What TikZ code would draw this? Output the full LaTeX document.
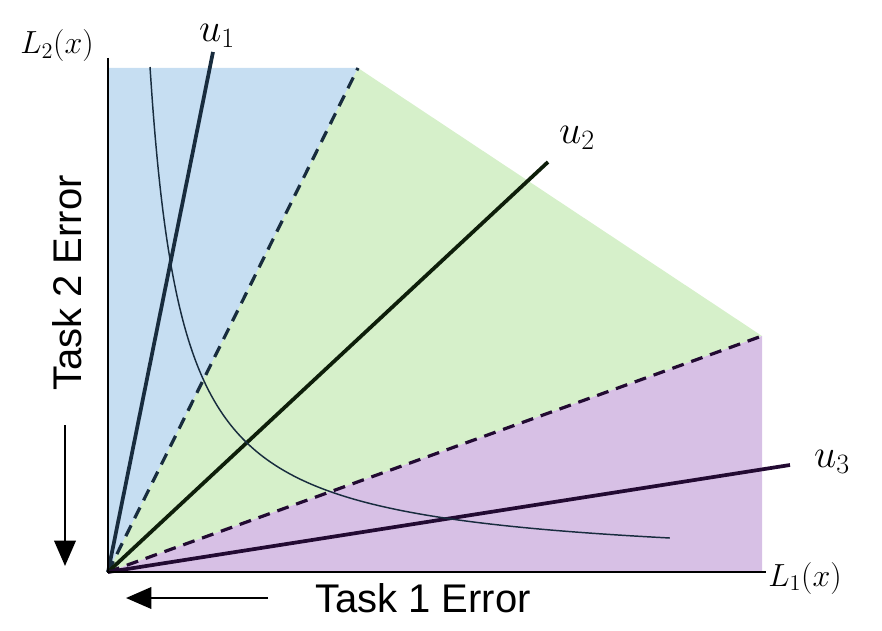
\documentclass[tikz,border=0pt]{standalone}
\usepackage{fix-cm}
\usepackage{fontspec}
\setmainfont{Liberation Sans}
\usetikzlibrary{arrows.meta}
\definecolor{regblue}{RGB}{198,222,242}
\definecolor{reggreen}{RGB}{214,240,202}
\definecolor{regpurple}{RGB}{215,192,229}
\definecolor{linenavy}{RGB}{24,44,62}
\definecolor{linegreen}{RGB}{14,30,10}
\definecolor{linepurple}{RGB}{34,10,50}
\tikzset{ray/.style={line width=2.8pt},
    border/.style={line width=2.4pt, dash pattern=on 9pt off 6pt},
    axis/.style={line width=1.6pt},
    tasklabel/.style={font=\fontsize{30}{32}\selectfont},
    mathlabel/.style={font=\fontsize{30}{32}\selectfont},
    axislabel/.style={font=\fontsize{24}{26}\selectfont},
    bigarrow/.style={line width=2pt, -{Triangle[width=16pt,length=19pt]}}}

\begin{document}
\begin{tikzpicture}[x=0.75pt,y=-0.75pt]
    \useasboundingbox (0,0) rectangle (882,631);
    \coordinate (O) at (108,572);
    \coordinate (top) at (108,58);
    \coordinate (right) at (766,572);
    \coordinate (b1) at (108,68);
    \coordinate (b2) at (358,68);
    \coordinate (g2) at (762,336);
    \coordinate (p2) at (762,572);

    % regions
    \fill[regblue] (O) -- (b1) -- (b2) -- cycle;
    \fill[reggreen] (O) -- (b2) -- (g2) -- cycle;
    \fill[regpurple] (O) -- (g2) -- (p2) -- cycle;

    % borders between regions
    \draw[border,linenavy] (O) -- (b2);
    \draw[border,linepurple] (O) -- (g2);

    % preference rays
    \node[mathlabel] (u1) at (217,36) {$u_1$};
    \node[mathlabel] (u2) at (577,138) {$u_2$};
    \node[mathlabel] (u3) at (832,462) {$u_3$};
    \coordinate (e1) at (213,52);
    \coordinate (e2) at (548,162);
    \coordinate (e3) at (790,465);
    \draw[ray,linenavy] (O) -- (e1);
    \draw[ray,linegreen] (O) -- (e2);
    \draw[ray,linepurple] (O) -- (e3);

    % pareto front
    \draw[line width=1.1pt,linenavy] plot[domain=0.32:5.52,samples=200,smooth]
        ({118+100*\x},{567-160/\x});

    % axes
    \draw[axis] (top) -- (O) -- (right);
    \node[axislabel] (l2) at (57,46) {$L_2(x)$};
    \node[axislabel] (l1) at (805,578) {$L_1(x)$};

    % axis captions
    \node[tasklabel,rotate=90] (t2) at (67,283) {Task 2 Error};
    \node[tasklabel] (t1) at (423,598) {Task 1 Error};
    \coordinate (a2s) at (65,425);
    \coordinate (a2e) at (65,566);
    \coordinate (a1s) at (268,598);
    \coordinate (a1e) at (126,598);
    \draw[bigarrow] (a2s) -- (a2e);
    \draw[bigarrow] (a1s) -- (a1e);
\end{tikzpicture}
\end{document}
